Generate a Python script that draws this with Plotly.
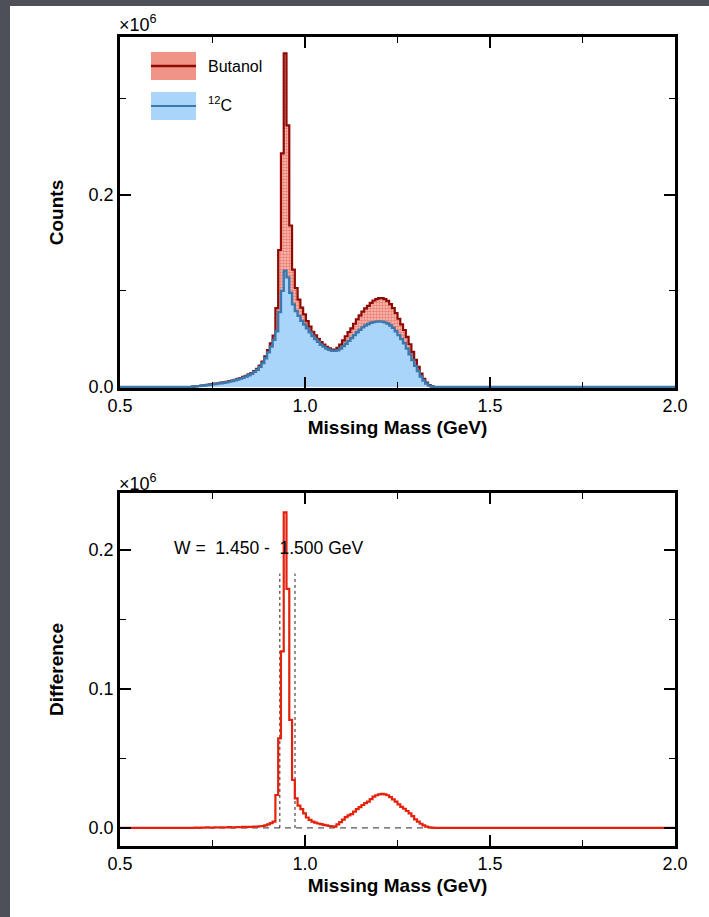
import plotly.graph_objects as go

# ---------------- data (values in units of 10^6 counts) ----------------
bin_width = 0.0075
first_edge = 0.695
mass_edges = [round(first_edge + i * bin_width, 4) for i in range(88)]  # lower bin edges (GeV)

carbon = [
    0.0005, 0.0008, 0.0010, 0.0013, 0.0016, 0.0020, 0.0024, 0.0028, 0.0032, 0.0036,
    0.0040, 0.0045, 0.0050, 0.0056, 0.0062, 0.0070, 0.0078, 0.0088, 0.0098, 0.0110,
    0.0123, 0.0138, 0.0158, 0.0180, 0.0210, 0.0250, 0.0300, 0.0360, 0.0420, 0.0490,
    0.0580, 0.0780, 0.1000, 0.1210, 0.1140, 0.0980, 0.0860, 0.0790, 0.0740, 0.0690,
    0.0650, 0.0610, 0.0570, 0.0530, 0.0500, 0.0470, 0.0440, 0.0420, 0.0400, 0.0388,
    0.0378, 0.0376, 0.0382, 0.0400, 0.0425, 0.0450, 0.0480, 0.0510, 0.0540, 0.0570,
    0.0595, 0.0620, 0.0640, 0.0655, 0.0668, 0.0675, 0.0680, 0.0682, 0.0680, 0.0672,
    0.0660, 0.0640, 0.0615, 0.0580, 0.0540, 0.0500, 0.0455, 0.0400, 0.0340, 0.0280,
    0.0220, 0.0165, 0.0110, 0.0068, 0.0035, 0.0015, 0.0005, 0.0000,
]

butanol = [
    0.0005, 0.0010, 0.0011, 0.0016, 0.0018, 0.0024, 0.0027, 0.0030, 0.0036, 0.0039,
    0.0045, 0.0048, 0.0054, 0.0062, 0.0066, 0.0075, 0.0084, 0.0093, 0.0105, 0.0116,
    0.0131, 0.0145, 0.0167, 0.0190, 0.0222, 0.0264, 0.0318, 0.0385, 0.0455, 0.0535,
    0.0820, 0.1425, 0.2430, 0.3470, 0.2720, 0.1680, 0.1220, 0.1030, 0.0910, 0.0825,
    0.0755, 0.0685, 0.0628, 0.0575, 0.0538, 0.0502, 0.0467, 0.0442, 0.0418, 0.0402,
    0.0390, 0.0386, 0.0408, 0.0442, 0.0485, 0.0528, 0.0570, 0.0610, 0.0658, 0.0705,
    0.0745, 0.0785, 0.0818, 0.0845, 0.0876, 0.0900, 0.0915, 0.0924, 0.0925, 0.0914,
    0.0895, 0.0862, 0.0820, 0.0770, 0.0710, 0.0652, 0.0593, 0.0522, 0.0445, 0.0365,
    0.0282, 0.0210, 0.0140, 0.0086, 0.0045, 0.0020, 0.0007, 0.0000,
]

difference = [
    0.0000, 0.0002, 0.0001, 0.0003, 0.0002, 0.0004, 0.0003, 0.0002, 0.0004, 0.0003,
    0.0005, 0.0003, 0.0004, 0.0006, 0.0004, 0.0005, 0.0006, 0.0005, 0.0007, 0.0006,
    0.0008, 0.0007, 0.0009, 0.0010, 0.0012, 0.0014, 0.0018, 0.0025, 0.0035, 0.0045,
    0.0237, 0.0645, 0.1270, 0.2270, 0.1720, 0.0777, 0.0345, 0.0213, 0.0160, 0.0135,
    0.0105, 0.0075, 0.0058, 0.0045, 0.0038, 0.0032, 0.0027, 0.0022, 0.0018, 0.0014,
    0.0012, 0.0010, 0.0026, 0.0042, 0.0060, 0.0078, 0.0090, 0.0100, 0.0118, 0.0135,
    0.0150, 0.0165, 0.0178, 0.0190, 0.0208, 0.0225, 0.0235, 0.0242, 0.0245, 0.0242,
    0.0235, 0.0222, 0.0205, 0.0190, 0.0170, 0.0152, 0.0138, 0.0122, 0.0105, 0.0085,
    0.0062, 0.0045, 0.0030, 0.0018, 0.0010, 0.0005, 0.0002, 0.0000,
]

x_min, x_max = 0.5, 2.0
cut_lo, cut_hi, cut_top = 0.932, 0.973, 0.183
w_label = "W =  1.450 -  1.500 GeV"

# ---------------- helpers ----------------
W, H = 709, 917


def px_x(p):
    return p / W


def px_y(p):
    return 1 - p / H


def step(vals):
    xs = [x_min] + mass_edges + [mass_edges[-1] + bin_width, x_max]
    ys = [0.0] + list(vals) + [0.0, 0.0]
    return xs, ys


FONT = "Liberation Sans, Arial, Helvetica, sans-serif"

fig = go.Figure()

bx, by = step(butanol)
fig.add_trace(go.Scatter(
    x=bx, y=by, mode="lines", line=dict(shape="hv", color="#8e0a05", width=2.2),
    fill="tozeroy", fillcolor="rgba(0,0,0,0)",
    fillpattern=dict(shape=".", fgcolor="#e33a28", bgcolor="#f7c3bb", size=3, solidity=0.55),
    xaxis="x", yaxis="y", showlegend=False, name="Butanol"))

cx, cy = step(carbon)
fig.add_trace(go.Scatter(
    x=cx, y=cy, mode="lines", line=dict(shape="hv", color="#3d78ad", width=2.4),
    fill="tozeroy", fillcolor="#a9d5fb",
    xaxis="x", yaxis="y", showlegend=False, name="12C"))

# bottom panel: zero line and cut lines
fig.add_trace(go.Scatter(
    x=[x_min, x_max], y=[0, 0], mode="lines",
    line=dict(color="#555555", width=1.2, dash="6px,5px"),
    xaxis="x2", yaxis="y2", showlegend=False, hoverinfo="skip"))
for xc in (cut_lo, cut_hi):
    fig.add_trace(go.Scatter(
        x=[xc, xc], y=[0, cut_top], mode="lines",
        line=dict(color="#222222", width=1, dash="3px,3px"),
        xaxis="x2", yaxis="y2", showlegend=False, hoverinfo="skip"))

dx, dy = step(difference)
fig.add_trace(go.Scatter(
    x=dx, y=dy, mode="lines", line=dict(shape="hv", color="#e5200b", width=2.2),
    xaxis="x2", yaxis="y2", showlegend=False, name="Difference"))

tickfont = dict(family=FONT, size=18, color="black")
titlefont = dict(family=FONT, size=19, color="black", weight="bold")

common = dict(showline=True, linecolor="black", linewidth=2.5, mirror="ticks",
              ticks="inside", ticklen=11, tickwidth=1.5, tickcolor="black",
              showgrid=False, zeroline=False, tickfont=tickfont, automargin=False)

xdom = [px_x(120), px_x(675)]
xcommon = dict(common, range=[x_min, x_max], tick0=0.5, dtick=0.5, tickformat=".1f",
               minor=dict(ticks="inside", ticklen=6, tick0=0.5, dtick=0.25,
                          tickcolor="black", tickwidth=1.2, showgrid=False),
               title=dict(text="<b>Missing Mass (GeV)</b>", font=titlefont, standoff=6))

fig.update_layout(
    width=W, height=H,
    margin=dict(l=0, r=0, t=0, b=0),
    paper_bgcolor="#4d5059",
    plot_bgcolor="rgba(0,0,0,0)",
    font=dict(family=FONT, color="black"),
    xaxis=dict(xcommon, domain=xdom, anchor="y"),
    yaxis=dict(common, domain=[px_y(388), px_y(37)], anchor="x",
               range=[-0.001, 0.364], tick0=0, dtick=0.2, tickformat=".1f",
               minor=dict(ticks="inside", ticklen=6, tick0=0, dtick=0.1,
                          tickcolor="black", tickwidth=1.2, showgrid=False),
               title=dict(text="<b>Counts</b>", font=titlefont, standoff=20)),
    xaxis2=dict(xcommon, domain=xdom, anchor="y2"),
    yaxis2=dict(common, domain=[px_y(846), px_y(493)], anchor="x2",
                range=[-0.013, 0.241], tick0=0, dtick=0.1, tickformat=".1f",
                minor=dict(ticks="inside", ticklen=6, tick0=0, dtick=0.05,
                           tickcolor="black", tickwidth=1.2, showgrid=False),
                title=dict(text="<b>Difference</b>", font=titlefont, standoff=20)),
)

shapes = [
    dict(type="rect", xref="paper", yref="paper", x0=px_x(10), x1=1.0,
         y0=0.0, y1=px_y(6), fillcolor="white", line=dict(width=0), layer="below"),
    # legend swatches
    dict(type="rect", xref="paper", yref="paper", x0=px_x(151), x1=px_x(196),
         y0=px_y(80), y1=px_y(52), fillcolor="#f09488", line=dict(width=0)),
    dict(type="line", xref="paper", yref="paper", x0=px_x(151), x1=px_x(196),
         y0=px_y(66), y1=px_y(66), line=dict(color="#8e0a05", width=2.5)),
    dict(type="rect", xref="paper", yref="paper", x0=px_x(151), x1=px_x(196),
         y0=px_y(120), y1=px_y(92), fillcolor="#a9d5fb", line=dict(width=0)),
    dict(type="line", xref="paper", yref="paper", x0=px_x(151), x1=px_x(196),
         y0=px_y(106), y1=px_y(106), line=dict(color="#3d78ad", width=2)),
]
fig.update_layout(shapes=shapes)

ann_font = dict(family=FONT, size=16, color="black")
annotations = [
    dict(text="Butanol", x=px_x(206), y=px_y(67), xref="paper", yref="paper",
         xanchor="left", yanchor="middle", showarrow=False, font=ann_font),
    dict(text="<sup>12</sup>C", x=px_x(206), y=px_y(104), xref="paper", yref="paper",
         xanchor="left", yanchor="middle", showarrow=False, font=ann_font),
    dict(text="×10<sup>6</sup>", x=px_x(117), y=px_y(23), xref="paper", yref="paper",
         xanchor="left", yanchor="middle", showarrow=False,
         font=dict(family=FONT, size=18, color="black")),
    dict(text="×10<sup>6</sup>", x=px_x(117), y=px_y(482), xref="paper", yref="paper",
         xanchor="left", yanchor="middle", showarrow=False,
         font=dict(family=FONT, size=18, color="black")),
    dict(text=w_label, x=px_x(172), y=px_y(548), xref="paper", yref="paper",
         xanchor="left", yanchor="middle", showarrow=False,
         font=dict(family=FONT, size=17.5, color="black")),
]
fig.update_layout(annotations=annotations)

fig.write_html("out.html")
